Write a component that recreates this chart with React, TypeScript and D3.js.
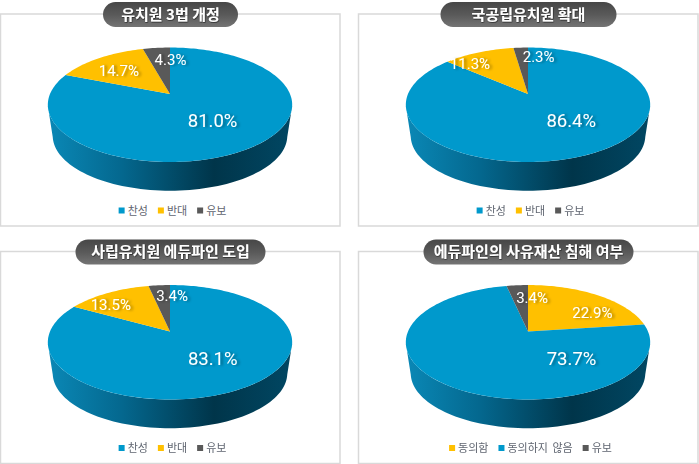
import { useEffect, useRef } from 'react'
import * as d3 from 'd3'

const titles = ['유치원 3법 개정', '국공립유치원 확대', '사립유치원 에듀파인 도입', '에듀파인의 사유재산 침해 여부']
const labelsA = ['찬성', '반대', '유보']
const labelsB = ['동의함', '동의하지 않음', '유보']
const kinderLaw = [81.0, 14.7, 4.3]
const publicKinder = [86.4, 11.3, 2.3]
const privateEdufine = [83.1, 13.5, 3.4]
const propertyRights = [22.9, 73.7, 3.4]
const coloursA = ['#0099cc', '#ffc000', '#595959']
const coloursB = ['#ffc000', '#0099cc', '#595959']

// layout only, not data
const panelOrigins = [[0, 0], [358, 0], [0, 237.5], [358, 237.5]]
const pillWidths = [135, 176, 190, 210]
const labelNudges = [
    [[2, -1], [0, 3], [10.5, 0]],
    [[13, -3.5], [-22, 0], [16, -3]],
    [[6, -2], [-14, 1], [10, -2]],
    [[14, 8], [85, 0], [12, 0]],
]

const font = '"Noto Sans CJK KR", "Noto Sans", sans-serif'
const numberFont = 'Roboto, "Noto Sans", sans-serif'
const apexX = 170
const apexY = 94
const tilt = 0.188
const scaleX = 120
const scaleY = 55.2
const depthShift = 31
const depthScale = 0.96

// tilted disc: angle clockwise from 12 o'clock, r in 0..1
const project = (angle: number, r = 1) => {
    const u = r * Math.sin(angle)
    const v = -r * Math.cos(angle)
    const w = 1 - tilt * v
    return [apexX + (scaleX * u) / w, apexY + (scaleY * v) / w]
}

const App = () => {
    const ref = useRef<SVGSVGElement>(null)

    useEffect(() => {
        const svg = d3.select(ref.current)
        svg.selectAll('*').remove()

        const defs = svg.append('defs')

        const wallGrad = defs
            .append('linearGradient')
            .attr('id', 'wall')
            .attr('gradientUnits', 'userSpaceOnUse')
            .attr('x1', apexX - 122)
            .attr('x2', apexX + 122)
            .attr('y1', 0)
            .attr('y2', 0)
        const wallStops: [number, string][] = [
            [0, '#0a88b6'],
            [0.3, '#04688f'],
            [0.68, '#00354a'],
            [1, '#014763'],
        ]
        wallStops.forEach(([o, c]) => wallGrad.append('stop').attr('offset', o).attr('stop-color', c))

        const pillGrad = defs
            .append('linearGradient')
            .attr('id', 'pill')
            .attr('x1', 0)
            .attr('x2', 0)
            .attr('y1', 0)
            .attr('y2', 1)
        pillGrad.append('stop').attr('offset', 0).attr('stop-color', '#474747')
        pillGrad.append('stop').attr('offset', 0.5).attr('stop-color', '#595959')
        pillGrad.append('stop').attr('offset', 1).attr('stop-color', '#747474')

        const shadow = defs.append('filter').attr('id', 'soft').attr('x', '-20%').attr('y', '-30%').attr('width', '150%').attr('height', '170%')
        shadow
            .append('feDropShadow')
            .attr('dx', 2.5)
            .attr('dy', 0.5)
            .attr('stdDeviation', 1.2)
            .attr('flood-color', '#222')
            .attr('flood-opacity', 0.35)

        const titleShadow = defs.append('filter').attr('id', 'titleSoft').attr('x', '-5%').attr('y', '-20%').attr('width', '110%').attr('height', '140%')
        titleShadow
            .append('feDropShadow')
            .attr('dx', 0.5)
            .attr('dy', 0.8)
            .attr('stdDeviation', 0.6)
            .attr('flood-color', '#111')
            .attr('flood-opacity', 0.7)

        const pie = d3.pie<number>().sort(null).value((d) => d)
        const line = d3.line()
        const ringAngles = d3.range(0, 2 * Math.PI + 0.01, Math.PI / 90)

        const charts = [kinderLaw, publicKinder, privateEdufine, propertyRights]

        charts.forEach((values, i) => {
            const names = i === 3 ? labelsB : labelsA
            const colours = i === 3 ? coloursB : coloursA
            const g = svg.append('g').attr('transform', `translate(${panelOrigins[i]})`)

            g.append('rect')
                .attr('x', 0.5)
                .attr('y', 14)
                .attr('width', 339.5)
                .attr('height', 212)
                .attr('fill', '#fff')
                .attr('stroke', '#d9d9d9')
                .attr('stroke-width', 1.5)

            // side wall: lower ring plus the band up to the rim
            const lower = (p: number[]) => [
                apexX + (p[0] - apexX) * depthScale,
                104.7 + (p[1] - 104.7) * depthScale + depthShift,
            ]
            const top = ringAngles.map((a) => project(a))
            const front = top
                .filter((p) => p[1] >= 104.7)
                .sort((a, b) => a[0] - b[0])
            const wallPts = [...front, ...front.slice().reverse().map(lower)] as [number, number][]
            g.append('path')
                .attr('d', line(wallPts) + 'Z')
                .attr('fill', 'url(#wall)')

            // top face
            const arcs = pie(values)
            const faces = g.append('g')
            arcs.forEach((a, j) => {
                const n = Math.max(2, Math.ceil((a.endAngle - a.startAngle) / (Math.PI / 120)))
                const rim = d3.range(n + 1).map((k) => project(a.startAngle + ((a.endAngle - a.startAngle) * k) / n))
                faces
                    .append('path')
                    .attr('d', line([[apexX, apexY], ...rim] as [number, number][]) + 'Z')
                    .attr('fill', colours[j])
            })

            // value labels
            const largest = d3.max(values) as number
            arcs.forEach((a, j) => {
                const mid = (a.startAngle + a.endAngle) / 2
                const big = values[j] === largest
                const [x, y] = project(mid, big ? 0.55 : 0.7)
                g.append('text')
                    .attr('x', x + labelNudges[i][j][0])
                    .attr('y', y + labelNudges[i][j][1])
                    .attr('dy', '0.35em')
                    .attr('text-anchor', 'middle')
                    .attr('font-family', numberFont)
                    .attr('font-size', big ? 18.5 : 15)
                    .attr('fill', '#fff')
                    .attr('filter', 'url(#soft)')
                    .text(d3.format('.1f')(values[j]) + '%')
            })

            // title pill
            const pw = pillWidths[i]
            g.append('rect')
                .attr('x', 170.5 - pw / 2)
                .attr('y', 2)
                .attr('width', pw)
                .attr('height', 25)
                .attr('rx', 12.5)
                .attr('fill', 'url(#pill)')
            g.append('text')
                .attr('x', 170.5)
                .attr('y', 14.5)
                .attr('dy', '0.35em')
                .attr('text-anchor', 'middle')
                .attr('font-family', font)
                .attr('font-size', 15)
                .attr('font-weight', 700)
                .attr('fill', '#fff')
                .attr('filter', 'url(#titleSoft)')
                .text(titles[i])

            // legend, centred from the measured text widths
            const legend = g.append('g')
            let cursor = 0
            names.forEach((name, j) => {
                legend
                    .append('rect')
                    .attr('x', cursor)
                    .attr('y', 207.5)
                    .attr('width', 6)
                    .attr('height', 6)
                    .attr('fill', colours[j])
                const t = legend
                    .append('text')
                    .attr('x', cursor + 9)
                    .attr('y', 211)
                    .attr('dy', '0.35em')
                    .attr('font-family', font)
                    .attr('font-size', 11)
                    .attr('word-spacing', 2)
                    .attr('fill', '#5f6570')
                    .text(name)
                const w = (t.node() as SVGTextElement).getComputedTextLength()
                cursor += 9 + w + 10
            })
            legend.attr('transform', `translate(${172.5 - (cursor - 10) / 2},0)`)
        })
    }, [])

    return (
        <svg
            ref={ref}
            width={699}
            height={464}
            style={{ position: 'absolute', left: 0, top: 0, filter: 'blur(0.35px)' }}
        />
    )
}

export default App
